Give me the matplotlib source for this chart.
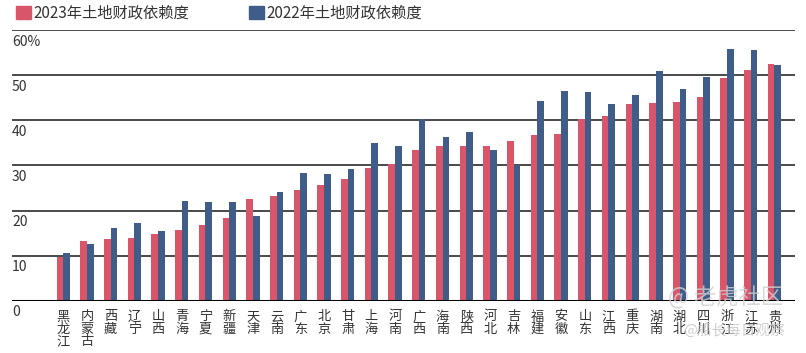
import numpy as np
import matplotlib.pyplot as plt
from matplotlib.patches import Patch

plt.rcParams['font.family'] = ['Noto Sans CJK SC', 'DejaVu Sans']

provinces = ['黑龙江', '内蒙古', '西藏', '辽宁', '山西', '青海', '宁夏', '新疆', '天津', '云南',
             '广东', '北京', '甘肃', '上海', '河南', '广西', '海南', '陕西', '河北', '吉林',
             '福建', '安徽', '山东', '江西', '重庆', '湖南', '湖北', '四川', '浙江', '江苏', '贵州']
dep_2023 = [9.8, 13.3, 13.7, 14.0, 14.7, 15.6, 16.7, 18.3, 22.6, 23.3,
            24.6, 25.6, 27.0, 29.5, 30.2, 33.3, 34.2, 34.3, 34.3, 35.5,
            36.8, 37.0, 40.2, 41.0, 43.7, 43.9, 44.0, 45.2, 49.4, 51.2, 52.5]
dep_2022 = [10.6, 12.5, 16.2, 17.3, 15.4, 22.0, 21.9, 21.8, 18.7, 24.2,
            28.3, 28.1, 29.1, 34.9, 34.4, 40.2, 36.2, 37.4, 33.3, 30.1,
            44.2, 46.4, 46.2, 43.5, 45.7, 50.9, 46.9, 49.6, 55.9, 55.6, 52.2]
yticks = [0, 10, 20, 30, 40, 50, 60]
ytick_labels = ['0', '10', '20', '30', '40', '50', '60%']

red = '#d9566a'
blue = '#3f5d88'

fig = plt.figure(figsize=(8.06, 3.53), dpi=100)
ax = fig.add_axes([0.0149, 0.148, 0.9715, 0.767])

x = np.arange(len(provinces))
w = 0.28
ax.bar(x - w / 2, dep_2023, w, color=red, zorder=3)
ax.bar(x + w / 2, dep_2022, w, color=blue, zorder=3)

# gridlines with labels just below them
for v, lab in zip(yticks, ytick_labels):
    if v == 0:
        ax.axhline(v, color='black', lw=2.2, zorder=4)
    else:
        ax.axhline(v, color='#4a4a4a', lw=1.4, zorder=1)
    ax.text(0.0, v - 1.0, lab, transform=ax.get_yaxis_transform(),
            ha='left', va='top', fontsize=10, color='#333333')

ax.set_xlim(-2.16, 30.87)
ax.set_ylim(0, 60)
for s in ax.spines.values():
    s.set_visible(False)
ax.set_yticks([])
ax.set_xticks(x)
ax.set_xticklabels(['\n'.join(p) for p in provinces], fontsize=9.5,
                   color='#333333', linespacing=0.95)
ax.tick_params(axis='x', length=0, pad=7)

handles = [Patch(color=red, label='2023年土地财政依赖度'),
           Patch(color=blue, label='2022年土地财政依赖度')]
fig.legend(handles=handles, loc='upper left', bbox_to_anchor=(0.003, 1.025), ncol=2,
           frameon=False, fontsize=11, handlelength=0.95, handleheight=0.95,
           handletextpad=0.2, columnspacing=3.9, labelcolor='#333333')

# watermark
fig.text(0.829, 0.156, '@ 老虎社区', fontsize=16, color='#d0d0d0', alpha=0.8, ha='left', va='center')
fig.text(0.847, 0.06, '@船长每日观察', fontsize=10.5, color='#c4c4c4', alpha=0.8, ha='left', va='center')

fig.savefig('out.png', dpi=100)
